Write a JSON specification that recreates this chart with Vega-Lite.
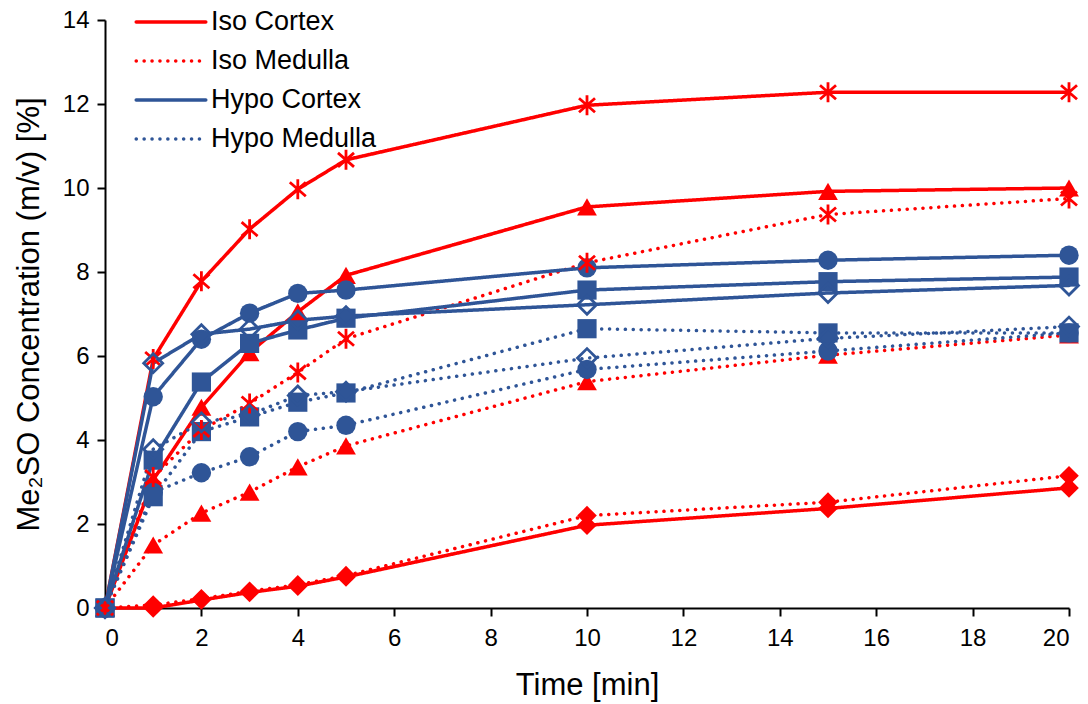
{
  "$schema": "https://vega.github.io/schema/vega-lite/v6.json",
  "width": 964,
  "height": 588,
  "autosize": {"type": "none"},
  "padding": {"left": 105, "top": 20, "right": 19, "bottom": 96},
  "background": "white",
  "config": {
    "view": {"stroke": null},
    "font": "Liberation Sans",
    "axis": {
      "grid": false,
      "domainColor": "black",
      "domainWidth": 2,
      "tickColor": "black",
      "tickWidth": 2,
      "tickSize": 8,
      "labelFont": "Liberation Sans",
      "labelFontSize": 24,
      "labelColor": "black",
      "titleFont": "Liberation Sans",
      "titleFontSize": 31,
      "titleFontWeight": "normal",
      "titleColor": "black"
    }
  },
  "data": {
    "values": [
      {"t": 0, "c": 0, "g": "Iso Cortex", "m": "asterisk"},
      {"t": 1, "c": 5.93, "g": "Iso Cortex", "m": "asterisk"},
      {"t": 2, "c": 7.78, "g": "Iso Cortex", "m": "asterisk"},
      {"t": 3, "c": 9.02, "g": "Iso Cortex", "m": "asterisk"},
      {"t": 4, "c": 9.97, "g": "Iso Cortex", "m": "asterisk"},
      {"t": 5, "c": 10.67, "g": "Iso Cortex", "m": "asterisk"},
      {"t": 10, "c": 11.97, "g": "Iso Cortex", "m": "asterisk"},
      {"t": 15, "c": 12.28, "g": "Iso Cortex", "m": "asterisk"},
      {"t": 20, "c": 12.28, "g": "Iso Cortex", "m": "asterisk"},

      {"t": 0, "c": 0, "g": "Iso Cortex", "m": "triangle"},
      {"t": 1, "c": 3.05, "g": "Iso Cortex", "m": "triangle"},
      {"t": 2, "c": 4.78, "g": "Iso Cortex", "m": "triangle"},
      {"t": 3, "c": 6.08, "g": "Iso Cortex", "m": "triangle"},
      {"t": 4, "c": 7.05, "g": "Iso Cortex", "m": "triangle"},
      {"t": 5, "c": 7.92, "g": "Iso Cortex", "m": "triangle"},
      {"t": 10, "c": 9.55, "g": "Iso Cortex", "m": "triangle"},
      {"t": 15, "c": 9.92, "g": "Iso Cortex", "m": "triangle"},
      {"t": 20, "c": 10.0, "g": "Iso Cortex", "m": "triangle"},

      {"t": 0, "c": 0, "g": "Iso Cortex", "m": "diamond"},
      {"t": 1, "c": 0.0, "g": "Iso Cortex", "m": "diamond"},
      {"t": 2, "c": 0.19, "g": "Iso Cortex", "m": "diamond"},
      {"t": 3, "c": 0.37, "g": "Iso Cortex", "m": "diamond"},
      {"t": 4, "c": 0.52, "g": "Iso Cortex", "m": "diamond"},
      {"t": 5, "c": 0.74, "g": "Iso Cortex", "m": "diamond"},
      {"t": 10, "c": 1.97, "g": "Iso Cortex", "m": "diamond"},
      {"t": 15, "c": 2.37, "g": "Iso Cortex", "m": "diamond"},
      {"t": 20, "c": 2.86, "g": "Iso Cortex", "m": "diamond"},

      {"t": 0, "c": 0, "g": "Iso Medulla", "m": "asterisk"},
      {"t": 1, "c": 3.12, "g": "Iso Medulla", "m": "asterisk"},
      {"t": 2, "c": 4.24, "g": "Iso Medulla", "m": "asterisk"},
      {"t": 3, "c": 4.87, "g": "Iso Medulla", "m": "asterisk"},
      {"t": 4, "c": 5.61, "g": "Iso Medulla", "m": "asterisk"},
      {"t": 5, "c": 6.41, "g": "Iso Medulla", "m": "asterisk"},
      {"t": 10, "c": 8.22, "g": "Iso Medulla", "m": "asterisk"},
      {"t": 15, "c": 9.37, "g": "Iso Medulla", "m": "asterisk"},
      {"t": 20, "c": 9.75, "g": "Iso Medulla", "m": "asterisk"},

      {"t": 0, "c": 0, "g": "Iso Medulla", "m": "triangle"},
      {"t": 1, "c": 1.5, "g": "Iso Medulla", "m": "triangle"},
      {"t": 2, "c": 2.26, "g": "Iso Medulla", "m": "triangle"},
      {"t": 3, "c": 2.76, "g": "Iso Medulla", "m": "triangle"},
      {"t": 4, "c": 3.36, "g": "Iso Medulla", "m": "triangle"},
      {"t": 5, "c": 3.86, "g": "Iso Medulla", "m": "triangle"},
      {"t": 10, "c": 5.39, "g": "Iso Medulla", "m": "triangle"},
      {"t": 15, "c": 6.02, "g": "Iso Medulla", "m": "triangle"},
      {"t": 20, "c": 6.5, "g": "Iso Medulla", "m": "triangle"},

      {"t": 0, "c": 0, "g": "Iso Medulla", "m": "diamond"},
      {"t": 1, "c": 0.07, "g": "Iso Medulla", "m": "diamond"},
      {"t": 2, "c": 0.22, "g": "Iso Medulla", "m": "diamond"},
      {"t": 3, "c": 0.4, "g": "Iso Medulla", "m": "diamond"},
      {"t": 4, "c": 0.55, "g": "Iso Medulla", "m": "diamond"},
      {"t": 5, "c": 0.77, "g": "Iso Medulla", "m": "diamond"},
      {"t": 10, "c": 2.2, "g": "Iso Medulla", "m": "diamond"},
      {"t": 15, "c": 2.52, "g": "Iso Medulla", "m": "diamond"},
      {"t": 20, "c": 3.15, "g": "Iso Medulla", "m": "diamond"},

      {"t": 0, "c": 0, "g": "Hypo Cortex", "m": "circle"},
      {"t": 1, "c": 5.03, "g": "Hypo Cortex", "m": "circle"},
      {"t": 2, "c": 6.4, "g": "Hypo Cortex", "m": "circle"},
      {"t": 3, "c": 7.02, "g": "Hypo Cortex", "m": "circle"},
      {"t": 4, "c": 7.49, "g": "Hypo Cortex", "m": "circle"},
      {"t": 5, "c": 7.57, "g": "Hypo Cortex", "m": "circle"},
      {"t": 10, "c": 8.1, "g": "Hypo Cortex", "m": "circle"},
      {"t": 15, "c": 8.28, "g": "Hypo Cortex", "m": "circle"},
      {"t": 20, "c": 8.4, "g": "Hypo Cortex", "m": "circle"},

      {"t": 0, "c": 0, "g": "Hypo Cortex", "m": "square"},
      {"t": 1, "c": 3.52, "g": "Hypo Cortex", "m": "square"},
      {"t": 2, "c": 5.38, "g": "Hypo Cortex", "m": "square"},
      {"t": 3, "c": 6.3, "g": "Hypo Cortex", "m": "square"},
      {"t": 4, "c": 6.62, "g": "Hypo Cortex", "m": "square"},
      {"t": 5, "c": 6.9, "g": "Hypo Cortex", "m": "square"},
      {"t": 10, "c": 7.57, "g": "Hypo Cortex", "m": "square"},
      {"t": 15, "c": 7.77, "g": "Hypo Cortex", "m": "square"},
      {"t": 20, "c": 7.88, "g": "Hypo Cortex", "m": "square"},

      {"t": 0, "c": 0, "g": "Hypo Cortex", "m": "open diamond"},
      {"t": 1, "c": 5.83, "g": "Hypo Cortex", "m": "open diamond"},
      {"t": 2, "c": 6.52, "g": "Hypo Cortex", "m": "open diamond"},
      {"t": 3, "c": 6.64, "g": "Hypo Cortex", "m": "open diamond"},
      {"t": 4, "c": 6.85, "g": "Hypo Cortex", "m": "open diamond"},
      {"t": 5, "c": 6.95, "g": "Hypo Cortex", "m": "open diamond"},
      {"t": 10, "c": 7.22, "g": "Hypo Cortex", "m": "open diamond"},
      {"t": 15, "c": 7.5, "g": "Hypo Cortex", "m": "open diamond"},
      {"t": 20, "c": 7.68, "g": "Hypo Cortex", "m": "open diamond"},

      {"t": 0, "c": 0, "g": "Hypo Medulla", "m": "circle"},
      {"t": 1, "c": 2.75, "g": "Hypo Medulla", "m": "circle"},
      {"t": 2, "c": 3.22, "g": "Hypo Medulla", "m": "circle"},
      {"t": 3, "c": 3.6, "g": "Hypo Medulla", "m": "circle"},
      {"t": 4, "c": 4.2, "g": "Hypo Medulla", "m": "circle"},
      {"t": 5, "c": 4.35, "g": "Hypo Medulla", "m": "circle"},
      {"t": 10, "c": 5.68, "g": "Hypo Medulla", "m": "circle"},
      {"t": 15, "c": 6.12, "g": "Hypo Medulla", "m": "circle"},
      {"t": 20, "c": 6.55, "g": "Hypo Medulla", "m": "circle"},

      {"t": 0, "c": 0, "g": "Hypo Medulla", "m": "square"},
      {"t": 1, "c": 2.65, "g": "Hypo Medulla", "m": "square"},
      {"t": 2, "c": 4.2, "g": "Hypo Medulla", "m": "square"},
      {"t": 3, "c": 4.55, "g": "Hypo Medulla", "m": "square"},
      {"t": 4, "c": 4.9, "g": "Hypo Medulla", "m": "square"},
      {"t": 5, "c": 5.12, "g": "Hypo Medulla", "m": "square"},
      {"t": 10, "c": 6.65, "g": "Hypo Medulla", "m": "square"},
      {"t": 15, "c": 6.55, "g": "Hypo Medulla", "m": "square"},
      {"t": 20, "c": 6.55, "g": "Hypo Medulla", "m": "square"},

      {"t": 0, "c": 0, "g": "Hypo Medulla", "m": "open diamond"},
      {"t": 1, "c": 3.78, "g": "Hypo Medulla", "m": "open diamond"},
      {"t": 2, "c": 4.42, "g": "Hypo Medulla", "m": "open diamond"},
      {"t": 3, "c": 4.6, "g": "Hypo Medulla", "m": "open diamond"},
      {"t": 4, "c": 5.06, "g": "Hypo Medulla", "m": "open diamond"},
      {"t": 5, "c": 5.15, "g": "Hypo Medulla", "m": "open diamond"},
      {"t": 10, "c": 5.95, "g": "Hypo Medulla", "m": "open diamond"},
      {"t": 15, "c": 6.42, "g": "Hypo Medulla", "m": "open diamond"},
      {"t": 20, "c": 6.7, "g": "Hypo Medulla", "m": "open diamond"}
    ]
  },
  "encoding": {
    "x": {
      "field": "t",
      "type": "quantitative",
      "title": "Time [min]",
      "scale": {"domain": [0, 20], "nice": false},
      "axis": {"values": [0, 2, 4, 6, 8, 10, 12, 14, 16, 18, 20], "labelPadding": 10, "titlePadding": 20}
    },
    "y": {
      "field": "c",
      "type": "quantitative",
      "title": "Me₂SO Concentration (m/v) [%]",
      "scale": {"domain": [0, 14], "nice": false},
      "axis": {"values": [0, 2, 4, 6, 8, 10, 12, 14], "labelPadding": 8, "titlePadding": 17}
    }
  },
  "layer": [
    {
      "mark": {"type": "line", "strokeWidth": 3.5, "strokeCap": "round", "strokeJoin": "round"},
      "encoding": {
        "detail": {"field": "m"},
        "color": {
          "field": "g",
          "type": "nominal",
          "scale": {
            "domain": ["Iso Cortex", "Iso Medulla", "Hypo Cortex", "Hypo Medulla"],
            "range": ["#FF0000", "#FF0000", "#2F5597", "#2F5597"]
          },
          "legend": {
            "title": null,
            "orient": "none",
            "legendX": 52,
            "legendY": -12,
            "symbolType": "M-2.9,0L2.9,0",
            "symbolSize": 576,
            "symbolStrokeWidth": 3.5,
            "labelFont": "Liberation Sans",
            "labelFontSize": 27,
            "labelColor": "black",
            "labelLimit": 400,
            "labelOffset": 26,
            "rowPadding": 12,
            "encode": {"symbols": {"update": {"strokeCap": {"value": "round"}}}}
          }
        },
        "strokeDash": {
          "field": "g",
          "type": "nominal",
          "scale": {
            "domain": ["Iso Cortex", "Iso Medulla", "Hypo Cortex", "Hypo Medulla"],
            "range": [[1, 0], [0.1, 7.8], [1, 0], [0.1, 7.8]]
          },
          "legend": {
            "title": null,
            "orient": "none",
            "legendX": 52,
            "legendY": -12,
            "symbolType": "M-2.9,0L2.9,0",
            "symbolSize": 576,
            "symbolStrokeWidth": 3.5,
            "labelFont": "Liberation Sans",
            "labelFontSize": 27,
            "labelColor": "black",
            "labelLimit": 400,
            "labelOffset": 26,
            "rowPadding": 12,
            "encode": {"symbols": {"update": {"strokeCap": {"value": "round"}}}}
          }
        }
      }
    },
    {
      "transform": [{"filter": "datum.m !== 'asterisk' && datum.m !== 'open diamond'"}],
      "mark": {"type": "point", "filled": true, "opacity": 1},
      "encoding": {
        "color": {"field": "g", "type": "nominal", "legend": null},
        "shape": {
          "field": "m",
          "type": "nominal",
          "scale": {
            "domain": ["asterisk", "triangle", "diamond", "circle", "square", "open diamond"],
            "range": ["M0,-1L0,1M-0.8,-0.7L0.8,0.7M-0.8,0.7L0.8,-0.7", "triangle-up", "diamond", "circle", "square", "diamond"]
          },
          "legend": null
        },
        "size": {
          "field": "m",
          "type": "nominal",
          "scale": {
            "domain": ["asterisk", "triangle", "diamond", "circle", "square", "open diamond"],
            "range": [400, 360, 380, 320, 300, 340]
          },
          "legend": null
        }
      }
    },
    {
      "transform": [{"filter": "datum.m === 'asterisk' || datum.m === 'open diamond'"}],
      "mark": {"type": "point", "filled": false, "opacity": 1, "strokeWidth": 2.8},
      "encoding": {
        "color": {"field": "g", "type": "nominal", "legend": null},
        "shape": {
          "field": "m",
          "type": "nominal",
          "scale": {
            "domain": ["asterisk", "triangle", "diamond", "circle", "square", "open diamond"],
            "range": ["M0,-1L0,1M-0.8,-0.7L0.8,0.7M-0.8,0.7L0.8,-0.7", "triangle-up", "diamond", "circle", "square", "diamond"]
          },
          "legend": null
        },
        "size": {
          "field": "m",
          "type": "nominal",
          "scale": {
            "domain": ["asterisk", "triangle", "diamond", "circle", "square", "open diamond"],
            "range": [400, 360, 380, 320, 300, 340]
          },
          "legend": null
        }
      }
    }
  ]
}
